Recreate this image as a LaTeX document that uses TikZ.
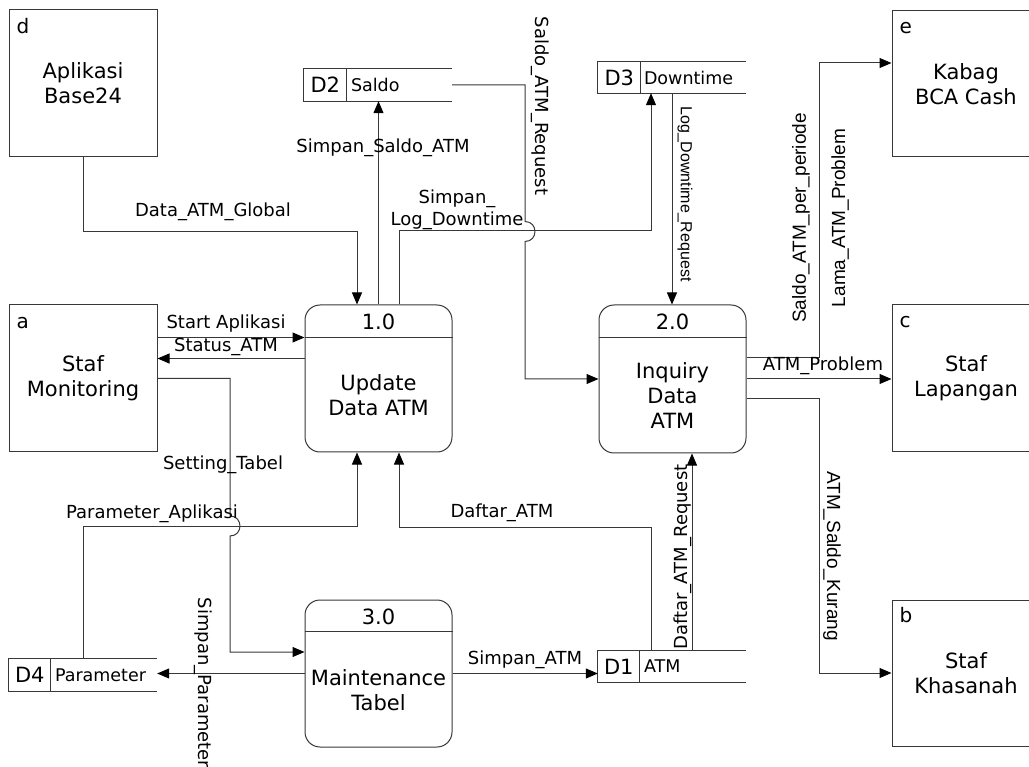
\documentclass[tikz,border=0pt]{standalone}
\usepackage{fontspec}
\setmainfont{DejaVu Sans}
\newfontfamily\libsans{Liberation Sans}
\usetikzlibrary{arrows.meta}
\begin{document}
\begin{tikzpicture}[x=1pt,y=-1pt,
  ln/.style={draw=black!78, line width=1pt},
  flow/.style={ln, -{Triangle[length=12pt,width=10pt,fill=black,color=black]}},
  entity/.style={draw=black!78, line width=1pt, minimum width=148pt, minimum height=147pt, inner sep=0pt, align=center, font=\fontsize{21}{25}\selectfont},
  proc/.style={draw=black!78, line width=1pt, rounded corners=15pt, minimum width=147pt, minimum height=147pt, inner sep=0pt},
  store/.style={minimum width=148pt, minimum height=32pt, inner sep=0pt},
  pname/.style={align=center, inner sep=0pt, font=\fontsize{21}{25}\selectfont},
  letter/.style={anchor=base west, inner sep=0pt, font=\fontsize{20}{24}\selectfont},
  sid/.style={inner sep=0pt, font=\fontsize{21}{25}\selectfont},
  sname/.style={anchor=west, inner sep=0pt, font=\fontsize{17.5}{21}\selectfont},
  lbl/.style={inner sep=0pt, align=center, font=\fontsize{18}{22}\selectfont},
  nlbl/.style={inner sep=0pt, font=\libsans\fontsize{19}{22}\selectfont},
  slbl/.style={inner sep=0pt, font=\libsans\fontsize{16}{19}\selectfont}]
\useasboundingbox (0,0) rectangle (1029,767);

% external entities
\node[entity] (d) at (83,83) {Aplikasi\\Base24};
\node[entity] (a) at (83,378.5) {Staf\\Monitoring};
\node[entity] (e) at (966,84) [minimum height=146pt] {Kabag\\BCA Cash};
\node[entity] (c) at (966,378.5) {Staf\\Lapangan};
\node[entity] (b) at (966,673) [minimum height=146pt] {Staf\\Khasanah};
\node[letter] (dl) at ([xshift=8pt,yshift=-25pt]d.north west) {d};
\node[letter] (al) at ([xshift=8pt,yshift=-24pt]a.north west) {a};
\node[letter] (el) at ([xshift=8pt,yshift=-23pt]e.north west) {e};
\node[letter] (cl) at ([xshift=8pt,yshift=-23pt]c.north west) {c};
\node[letter] (bl) at ([xshift=8pt,yshift=-23pt]b.north west) {b};

% processes
\node[proc] (p1) at (378.5,378.5) {};
\node[proc] (p2) at (672.5,379) [minimum height=148pt] {};
\node[proc] (p3) at (378.5,673.5) {};
\draw[ln] ([yshift=-33pt]p1.north west) -- ([yshift=-33pt]p1.north east);
\draw[ln] ([yshift=-33pt]p2.north west) -- ([yshift=-33pt]p2.north east);
\draw[ln] ([yshift=-32pt]p3.north west) -- ([yshift=-32pt]p3.north east);
\node[sid] (p1n) at ([yshift=-17pt]p1.north) {1.0};
\node[sid] (p2n) at ([yshift=-17pt]p2.north) {2.0};
\node[sid] (p3n) at ([yshift=-17pt]p3.north) {3.0};
\node[pname] (p1t) at ([yshift=-16.5pt]p1.center) {Update\\Data ATM};
\node[pname] (p2t) at ([yshift=-17pt]p2.center) {Inquiry\\Data\\ATM};
\node[pname] (p3t) at ([yshift=-16.5pt]p3.center) {Maintenance\\Tabel};

% data stores
\node[store] (D2) at (378,85) {};
\node[store] (D3) at (672,77.5) [minimum height=31pt] {};
\node[store] (D1) at (672,666.5) [minimum height=31pt] {};
\node[store] (D4) at (83,675) {};
\foreach \s/\o in {D2/43,D3/43,D1/42,D4/42}{
  \draw[ln] (\s.north east) -- (\s.north west) -- (\s.south west) -- (\s.south east);
  \draw[ln] ([xshift=\o pt]\s.north west) -- ([xshift=\o pt]\s.south west);
}
\node[sid] (D2i) at ([xshift=21.5pt]D2.west) {D2};
\node[sid] (D3i) at ([xshift=21.5pt]D3.west) {D3};
\node[sid] (D1i) at ([xshift=21pt]D1.west) {D1};
\node[sid] (D4i) at ([xshift=21pt]D4.west) {D4};
\node[sname] (D2t) at ([xshift=47pt]D2.west) {Saldo};
\node[sname] (D3t) at ([xshift=46pt]D3.west) {Downtime};
\node[sname] (D1t) at ([xshift=46pt]D1.west) {ATM};
\node[sname] (D4t) at ([xshift=46pt]D4.west) {Parameter};

% flows
\draw[flow] (d.south) -- ++(0,74.5) -| ([xshift=-21.5pt]p1.north);
\draw[flow] (p1.north) -- (p1.north |- D2.south);
\draw[flow] ([xshift=20.5pt]p1.north) -- ++(0,-73.5) -| ([xshift=-21pt]D3.south);
\draw[flow] (D2.east) -| (525,221.5) .. controls (538.3,221.5) and (538.3,241.5) .. (525,241.5) |- (p2.west);
\draw[flow] (D3.south) -- (D3.south |- p2.north);
\draw[flow] ([yshift=21pt]p2.east) -- (819,358) |- ([yshift=21pt]e.west);
\draw[flow] (p2.east) -- (p2.east -| c.west);
\draw[flow] ([yshift=-20pt]p2.east) -- (819,399) |- (b.west);
\draw[flow] ([yshift=41pt]a.east) -- ([yshift=41pt]a.east -| p1.west);
\draw[flow] ([yshift=20pt]p1.west) -- ([yshift=20pt]p1.west -| a.east);
\draw[flow] (a.east) -- (230,378.5) -- (230,516) .. controls (243.3,516) and (243.3,536) .. (230,536) |- ([yshift=21.5pt]p3.west);
\draw[flow] (D4.north) -- (83,526) -| ([xshift=-21.5pt]p1.south);
\draw[flow] ([xshift=-21pt]D1.north) -- (651,527) -| ([xshift=20.5pt]p1.south);
\draw[flow] ([xshift=20pt]D1.north) -- ([xshift=20pt]D1.north |- p2.south);
\draw[flow] (p3.west) -- (p3.west -| D4.east);
\draw[flow] (p3.east) -- (p3.east -| D1.west);

% flow labels
\node[lbl] (l1) at (213,212) {Data\_ATM\_Global};
\node[lbl] (l2) at (383,148) {Simpan\_Saldo\_ATM};
\node[lbl] (l3) at (457,210) {Simpan\_\\Log\_Downtime};
\node[lbl, rotate=-90] (l4) at (540,106) {Saldo\_ATM\_Request};
\node[slbl, rotate=-90] (l5) at (685,194) {Log\_Downtime\_Request};
\node[nlbl, rotate=90] (l6) at (801,218) {Saldo\_ATM\_per\_periode};
\node[nlbl, rotate=90] (l7) at (840,218) {Lama\_ATM\_Problem};
\node[lbl] (l8) at (823,366) {ATM\_Problem};
\node[nlbl, rotate=-90] (l9) at (832,556) {ATM\_Saldo\_Kurang};
\node[lbl] (l10) at (226,324) {Start Aplikasi};
\node[lbl] (l11) at (226,347) {Status\_ATM};
\node[lbl] (l12) at (223,465) {Setting\_Tabel};
\node[lbl] (l13) at (152,514) {Parameter\_Aplikasi};
\node[lbl] (l14) at (502,513) {Daftar\_ATM};
\node[lbl, rotate=90] (l15) at (683,557) {Daftar\_ATM\_Request};
\node[lbl, rotate=-90] (l16) at (203,683) {Simpan\_Parameter};
\node[lbl] (l17) at (525,660) {Simpan\_ATM};
\end{tikzpicture}
\end{document}
